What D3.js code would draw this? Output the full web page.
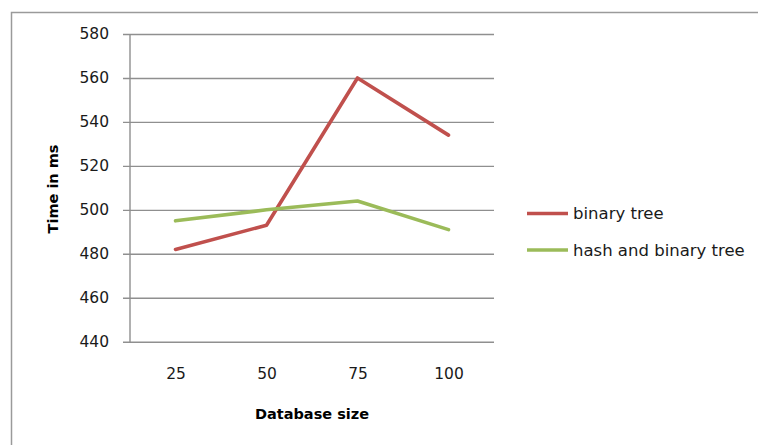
<!DOCTYPE html>
<html>
<head>
<meta charset="utf-8">
<script src="https://cdn.jsdelivr.net/npm/d3@7"></script>
<style>
  html, body { margin: 0; padding: 0; background: #fff; }
  svg { display: block; }
</style>
</head>
<body>
<svg id="chart" width="758" height="445"></svg>
<script>
// Query time per database size, for two index structures
const categories = ["25", "50", "75", "100"];
const binaryTree = [482, 493, 560, 534];
const hashAndBinaryTree = [495, 500, 504, 491];
const seriesNames = ["binary tree", "hash and binary tree"];
const seriesColors = ["#c0504d", "#9bbb59"];
const yTicks = [440, 460, 480, 500, 520, 540, 560, 580];

const series = [
  { name: seriesNames[0], values: binaryTree, color: seriesColors[0] },
  { name: seriesNames[1], values: hashAndBinaryTree, color: seriesColors[1] }
];

const svg = d3.select("#chart");
const font = "'DejaVu Sans', Verdana, sans-serif";

// Outer chart frame (runs off the right and bottom edges)
svg.append("rect")
  .attr("x", 11.5).attr("y", 12.5)
  .attr("width", 800).attr("height", 500)
  .attr("fill", "#fff")
  .attr("stroke", "#9a9a9a")
  .attr("stroke-width", 1.5);

const plot = { left: 130, right: 494, top: 34, bottom: 341.7 };

const x = d3.scalePoint()
  .domain(categories)
  .range([plot.left, plot.right])
  .padding(0.5);

const y = d3.scaleLinear()
  .domain([440, 580])
  .range([plot.bottom, plot.top]);

// Horizontal gridlines with small ticks left of the axis
const yAxis = d3.axisLeft(y)
  .tickValues(yTicks)
  .tickSize(7)
  .tickPadding(14)
  .tickFormat(d3.format("d"));

const gy = svg.append("g")
  .attr("transform", `translate(${plot.left},0)`)
  .call(yAxis);
gy.select(".domain").remove();
gy.selectAll(".tick line")
  .attr("x1", -7)
  .attr("x2", plot.right - plot.left)
  .attr("stroke", "#8f8f8f")
  .attr("stroke-width", 1.4);
gy.selectAll(".tick text")
  .attr("fill", "#1a1a1a")
  .style("font-family", font)
  .style("font-size", "15.5px");

// Vertical axis line
svg.append("line")
  .attr("x1", plot.left).attr("x2", plot.left)
  .attr("y1", plot.top).attr("y2", plot.bottom + 0.5)
  .attr("stroke", "#8f8f8f")
  .attr("stroke-width", 1.4);

// Category axis labels
const xAxis = d3.axisBottom(x).tickSize(0).tickPadding(26);
const gx = svg.append("g")
  .attr("transform", `translate(0,${plot.bottom})`)
  .call(xAxis);
gx.select(".domain").remove();
gx.selectAll(".tick text")
  .attr("fill", "#1a1a1a")
  .style("font-family", font)
  .style("font-size", "15.5px");

// Series lines
const line = d3.line()
  .x((d, i) => x(categories[i]))
  .y(d => y(d));

svg.append("g").selectAll("path")
  .data(series)
  .join("path")
  .attr("d", d => line(d.values))
  .attr("fill", "none")
  .attr("stroke", d => d.color)
  .attr("stroke-width", 3.6)
  .attr("stroke-linejoin", "round")
  .attr("stroke-linecap", "round");

// Axis titles
svg.append("text")
  .attr("transform", "translate(58,189) rotate(-90)")
  .attr("text-anchor", "middle")
  .attr("fill", "#000")
  .style("font-family", font)
  .style("font-size", "14.5px")
  .style("font-weight", "bold")
  .text("Time in ms");

svg.append("text")
  .attr("x", 312).attr("y", 419)
  .attr("text-anchor", "middle")
  .attr("fill", "#000")
  .style("font-family", font)
  .style("font-size", "14.5px")
  .style("font-weight", "bold")
  .text("Database size");

// Legend
const legend = svg.append("g").selectAll("g")
  .data(series)
  .join("g")
  .attr("transform", (d, i) => `translate(527,${213.5 + i * 36.5})`);
legend.append("line")
  .attr("x1", 0).attr("x2", 41)
  .attr("stroke", d => d.color)
  .attr("stroke-width", 3.6);
legend.append("text")
  .attr("x", 46).attr("dy", "0.35em")
  .attr("fill", "#1a1a1a")
  .style("font-family", font)
  .style("font-size", "16.5px")
  .text(d => d.name);
</script>
</body>
</html>
